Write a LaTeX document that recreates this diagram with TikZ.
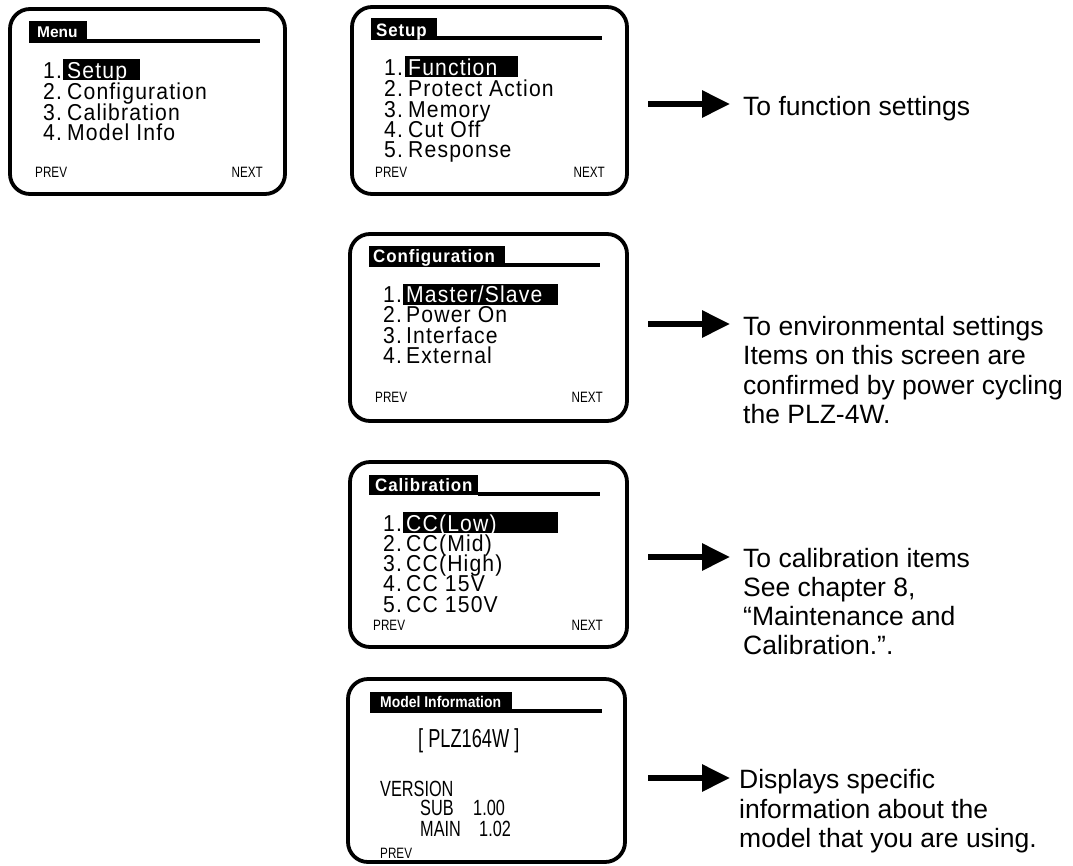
\documentclass[tikz,border=0pt]{standalone}
\usepackage{fontspec}
\setmainfont{Liberation Sans}
\newfontfamily\scrfont[LetterSpace=5,FakeStretch=0.92]{Liberation Sans}
\newfontfamily\ttlfont[LetterSpace=5,FakeStretch=0.94]{Liberation Sans}
\newfontfamily\condfont[FakeStretch=0.78]{Liberation Sans}
\newfontfamily\condbfont[FakeStretch=0.9]{Liberation Sans}
\newfontfamily\mifont[FakeStretch=0.74]{Liberation Sans}
\newfontfamily\bigmifont[FakeStretch=0.7]{Liberation Sans}
\usetikzlibrary{arrows.meta}
\begin{document}
\begin{tikzpicture}[x=1pt,y=-1pt,
  screen/.style={draw,line width=3.8pt,rounded corners=20pt},
  titlerule/.style={line width=4pt},
  ttl/.style={anchor=base west,inner sep=0pt,text=white,font={\ttlfont\bfseries\fontsize{18}{18}\selectfont}},
  num/.style={anchor=base west,inner sep=0pt,text height=16pt,text depth=3.5pt,font={\scrfont\fontsize{23}{23}\selectfont}},
  item/.style={num},
  hitem/.style={item,text=white},
  soft/.style={anchor=base west,inner sep=0pt,font={\condfont\fontsize{15}{15}\selectfont}},
  softr/.style={soft,anchor=base east},
  info/.style={anchor=base west,inner sep=0pt,text height=16pt,text depth=0pt,font={\mifont\fontsize{22}{22}\selectfont}},
  desc/.style={anchor=base west,inner sep=0pt,font={\fontsize{26.5}{29}\selectfont}},
  pointer/.style={line width=6pt,-{Triangle[length=28pt,width=26pt]}},
]
\useasboundingbox (0,0) rectangle (1073,865);

% ---------- Menu screen ----------
\draw[screen] (10,9) rectangle (285,194);
\fill (29,21) rectangle (87,43);
\draw[titlerule] (87,41) -- (260,41);
\node[ttl,font={\bfseries\fontsize{15.5}{15.5}\selectfont}] (mt) at (37,37) {Menu};
\fill (63,59) rectangle (140,80);
\node[num] (mn1) at (43,78) {1.};  \node[hitem] (mi1) at (67,78) {Setup};
\node[num] (mn2) at (43,99) {2.};  \node[item] (mi2) at (67,99) {Configuration};
\node[num] (mn3) at (43,120) {3.}; \node[item] (mi3) at (67,120) {Calibration};
\node[num] (mn4) at (43,140) {4.}; \node[item] (mi4) at (67,140) {Model Info};
\node[soft] (mp) at (35,177) {PREV};
\node[softr] (mx) at (263,177) {NEXT};

% ---------- Setup screen ----------
\draw[screen] (352,7) rectangle (627,194);
\fill (371,18) rectangle (437,40);
\draw[titlerule] (437,38) -- (602,38);
\node[ttl] (st) at (376,36) {Setup};
\fill (405,56) rectangle (518,77);
\node[num] (sn1) at (384,75) {1.};  \node[hitem] (si1) at (408,75) {Function};
\node[num] (sn2) at (384,96) {2.};  \node[item] (si2) at (408,96) {Protect Action};
\node[num] (sn3) at (384,117) {3.}; \node[item] (si3) at (408,117) {Memory};
\node[num] (sn4) at (384,137) {4.}; \node[item] (si4) at (408,137) {Cut Off};
\node[num] (sn5) at (384,157) {5.}; \node[item] (si5) at (408,157) {Response};
\node[soft] (sp) at (375,177) {PREV};
\node[softr] (sx) at (605,177) {NEXT};

% ---------- Configuration screen ----------
\draw[screen] (350,234) rectangle (627,421);
\fill (369,246) rectangle (505,267);
\draw[titlerule] (505,264.5) -- (600,264.5);
\node[ttl] (ct) at (373,262) {Configuration};
\fill (403,284) rectangle (558,305);
\node[num] (cn1) at (383,302) {1.}; \node[hitem] (ci1) at (406,302) {Master/Slave};
\node[num] (cn2) at (383,322) {2.}; \node[item] (ci2) at (406,322) {Power On};
\node[num] (cn3) at (383,343) {3.}; \node[item] (ci3) at (406,343) {Interface};
\node[num] (cn4) at (383,363) {4.}; \node[item] (ci4) at (406,363) {External};
\node[soft] (cp) at (375,402) {PREV};
\node[softr] (cx) at (603,402) {NEXT};

% ---------- Calibration screen ----------
\draw[screen] (350,462) rectangle (627,647);
\fill (369,475) rectangle (478,495);
\draw[titlerule] (478,493.5) -- (600,493.5);
\node[ttl] (kt) at (375,491) {Calibration};
\fill (403,512) rectangle (558,533);
\node[num] (kn1) at (383,531) {1.}; \node[hitem] (ki1) at (406,531) {CC(Low)};
\node[num] (kn2) at (383,551) {2.}; \node[item] (ki2) at (406,551) {CC(Mid)};
\node[num] (kn3) at (383,571) {3.}; \node[item] (ki3) at (406,571) {CC(High)};
\node[num] (kn4) at (383,591) {4.}; \node[item] (ki4) at (406,591) {CC 15V};
\node[num] (kn5) at (383,612) {5.}; \node[item] (ki5) at (406,612) {CC 150V};
\node[soft] (kp) at (373,630) {PREV};
\node[softr] (kx) at (603,630) {NEXT};

% ---------- Model Information screen ----------
\draw[screen] (348,679) rectangle (625,862);
\fill (370,692) rectangle (512,713);
\draw[titlerule] (512,711) -- (602,711);
\node[ttl,font={\condbfont\bfseries\fontsize{15.5}{15.5}\selectfont}] (it) at (380,707) {Model Information};
\node[info,text height=19pt,font={\bigmifont\fontsize{26}{26}\selectfont}] (imodel) at (418,747) {[ PLZ164W ]};
\node[info] (iver) at (380,796) {VERSION};
\node[info] (isub) at (420,815) {SUB};
\node[info] (isubv) at (473,815) {1.00};
\node[info] (imain) at (420,836) {MAIN};
\node[info] (imainv) at (479,836) {1.02};
\node[soft] (ip) at (380,858) {PREV};

% ---------- Pointers and descriptions ----------
\coordinate (a1s) at (648,104); \coordinate (a1e) at (730,104);
\draw[pointer] (a1s) -- (a1e);
\node[desc] (d1a) at (743,115) {To function settings};

\coordinate (a2s) at (648,324); \coordinate (a2e) at (730,324);
\draw[pointer] (a2s) -- (a2e);
\node[desc] (d2a) at (743,335) {To environmental settings};
\node[desc] (d2b) at (743,364.5) {Items on this screen are};
\node[desc] (d2c) at (743,394) {confirmed by power cycling};
\node[desc] (d2d) at (743,423) {the PLZ-4W.};

\coordinate (a3s) at (648,557); \coordinate (a3e) at (730,557);
\draw[pointer] (a3s) -- (a3e);
\node[desc] (d3a) at (743,567) {To calibration items};
\node[desc] (d3b) at (743,596) {See chapter 8,};
\node[desc] (d3c) at (743,625) {“Maintenance and};
\node[desc] (d3d) at (743,654) {Calibration.”.};

\coordinate (a4s) at (648,778); \coordinate (a4e) at (730,778);
\draw[pointer] (a4s) -- (a4e);
\node[desc] (d4a) at (739,788) {Displays specific};
\node[desc] (d4b) at (739,818) {information about the};
\node[desc] (d4c) at (739,847) {model that you are using.};
\end{tikzpicture}
\end{document}
